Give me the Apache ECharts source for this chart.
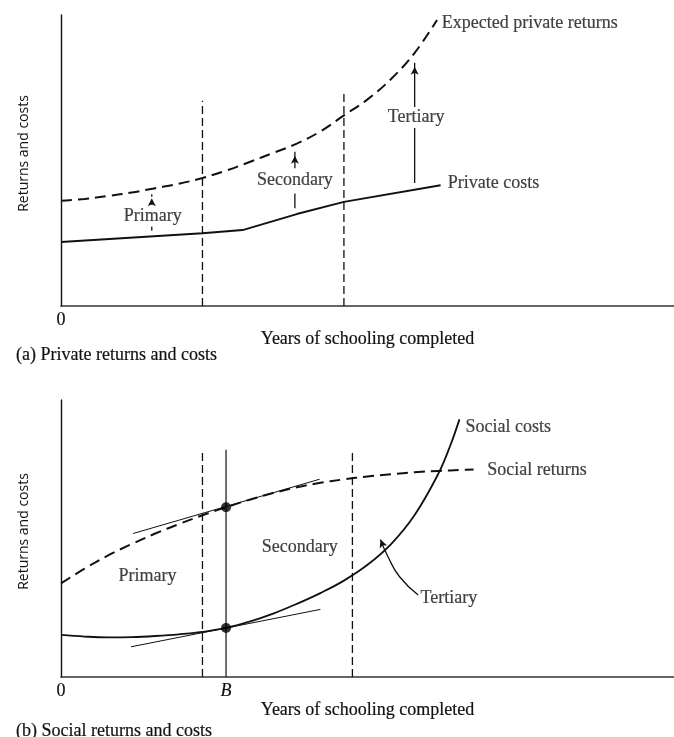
<!DOCTYPE html>
<html><head><meta charset="utf-8">
<script src="https://cdn.jsdelivr.net/npm/echarts@6/dist/echarts.min.js"></script>
<style>html,body{margin:0;padding:0;background:#fff}#c{width:674px;height:737px}</style>
</head><body><div id="c"></div>
<script>
// ---------- Panel (a): private returns and costs ----------
const expectedPrivateReturns = [[0,36.2],[1,36.8],[2,37.8],[3,39],[4,40.5],[5,42],[6,44],[7,46.5],[8,49.5],[9,52.6],[10,55.8],[11,60],[12,65.5],[13,71],[14,78],[15,87],[15.95,98.3]];
const privateCosts = [[0,22],[6,25],[7.7,26.1],[10,31.6],[12,35.8],[16.1,41.5]];
const stageLinesA = [[6,70.5],[12,74.2]];            // [years, top of line]
const arrowsA = [                                     // [years, lowStart, lowEnd, upStart, tip]
  [3.85, 25.9, 28.4, 34.8, 38.4],
  [9.92, 33.6, 38.7, 47.3, 53.0],
  [15.0, 42.3, 61.2, 68.4, 83.6]
];
const arrowDashedA = [true, false, false];
const labelsA = [
  ['Expected private returns', 16.15, 97.3, 'left'],
  ['Private costs', 16.4, 42.3, 'left'],
  ['Primary', 3.89, 31.0, 'center'],
  ['Secondary', 9.92, 43.3, 'center'],
  ['Tertiary', 15.06, 64.9, 'center']
];
const xTickLabelsA = {0:'0'};

// ---------- Panel (b): social returns and costs ----------
const socialReturns = [[0,33.8],[1,39.1],[2,43.9],[3,48.0],[4,51.8],[5,55.2],[6,58.4],[7,61.3],[8,64.0],[9,66.4],[10,68.5],[11,70.1],[12,71.35],[13,72.4],[14,73.2],[15,73.9],[16,74.4],[17,74.75],[17.5,74.9]];
const socialCosts = [[0,15.2],[1,14.6],[2,14.3],[3,14.4],[4,14.8],[5,15.4],[6,16.3],[7,17.7],[8,20.0],[9,22.9],[10,26.4],[11,30.3],[12,34.8],[13,40.5],[14,48.0],[15,58.5],[16,73.3],[16.5,83.3],[16.9,93]];
const returnsTangent = [[3.06,51.8],[10.97,71.4]];
const costsTangent = [[2.97,10.9],[11.0,24.4]];
const pointB = 7;
const dotsB = [[7,61.3],[7,17.7]];
const stageLinesB = [[6,82],[12.36,82]];
const lineBTop = 82;
const tertiaryPointer = [[15.15,29.6],[14.36,36.2],[13.87,43.4],[13.55,49.6]];
const labelsB = [
  ['Social costs', 17.16, 90.1, 'left'],
  ['Social returns', 18.08, 74.5, 'left'],
  ['Primary', 3.67, 36.2, 'center'],
  ['Secondary', 10.13, 47.0, 'center'],
  ['Tertiary', 15.25, 28.4, 'left']
];
const xTickLabelsB = {0:'0', 7:'B'};

const X_MAX = 26, Y_MAX = 100;
const FONT = 'Liberation Serif';
const INK = '#111';
const TXT = {fontFamily:FONT, fontSize:18, color:'#111', textBorderColor:'#111', textBorderWidth:0.2};

function lineSeries(ax, data, opts) {
  opts = opts || {};
  return {
    type:'line', xAxisIndex:ax, yAxisIndex:ax, data:data,
    symbol:'none', showSymbol:true, silent:true, animation:false,
    smooth: opts.smooth || false,
    lineStyle:{color:INK, width: opts.width || 1.6, type: opts.dash || 'solid'},
    emphasis:{disabled:true}, z: opts.z || 2
  };
}
function arrowSeries(ax, x, y0, y1, dashed) {
  return lineSeries(ax, [[x,y0], {value:[x,y1], symbol:'arrow', symbolSize:[6,8], symbolOffset:[0,'50%'], itemStyle:{color:INK}}],
    {width:1.3, dash: dashed ? [4,4] : 'solid'});
}
function labelSeries(ax, labels) {
  return {
    type:'scatter', xAxisIndex:ax, yAxisIndex:ax, silent:true, animation:false,
    symbolSize:1, itemStyle:{color:'rgba(0,0,0,0)'},
    data: labels.map(l => ({value:[l[1], l[2]], name:l[0],
      label:Object.assign({show:true, position:'inside', align:l[3], verticalAlign:'middle',
        formatter:l[0]}, TXT)})),
    z:5
  };
}
function xAxis(grid, ticks, nameGap) {
  return {
    type:'value', gridIndex:grid, min:0, max:X_MAX, interval:1,
    name:'Years of schooling completed', nameLocation:'middle', nameGap:nameGap,
    nameTextStyle:Object.assign({}, TXT),
    axisLine:{show:true, onZero:false, lineStyle:{color:'#333', width:1.7}},
    axisTick:{show:false}, splitLine:{show:false},
    axisLabel:Object.assign({show:true, margin:5, interval:0, hideOverlap:false, showMinLabel:true, showMaxLabel:false,
      formatter: v => { const t = ticks[v]; if (!t) return ''; return t === 'B' ? '{i|B}' : t; },
      rich:{i:Object.assign({fontStyle:'italic'}, TXT)}}, TXT)
  };
}
function yAxis(grid) {
  return {
    type:'value', gridIndex:grid, min:0, max:Y_MAX,
    name:'Returns and costs', nameLocation:'middle', nameGap:30, nameRotate:90,
    nameTextStyle:{fontFamily:'Open Sans', fontSize:14, color:'#111', padding:[0,0,0,14]},
    axisLine:{show:true, onZero:false, lineStyle:{color:'#111', width:1.4}},
    axisTick:{show:false}, splitLine:{show:false}, axisLabel:{show:false}
  };
}

const series = [];
// panel a
series.push(lineSeries(0, expectedPrivateReturns, {smooth:0.4, dash:[11,6], width:2}));
series.push(lineSeries(0, privateCosts, {width:1.9}));
stageLinesA.forEach(s => series.push(lineSeries(0, [[s[0],0],[s[0],s[1]]], {dash:[8,4], width:1.3})));
arrowsA.forEach((a,i) => {
  series.push(lineSeries(0, [[a[0],a[1]],[a[0],a[2]]], {width:1.3, dash: arrowDashedA[i] ? [4,4] : 'solid'}));
  series.push(arrowSeries(0, a[0], a[3], a[4], arrowDashedA[i]));
});
series.push(labelSeries(0, labelsA));
// panel b
series.push(lineSeries(1, socialReturns, {smooth:0.4, dash:[11,6], width:2}));
series.push(lineSeries(1, socialCosts, {smooth:0.4, width:1.8}));
series.push(lineSeries(1, returnsTangent, {width:1}));
series.push(lineSeries(1, costsTangent, {width:1}));
stageLinesB.forEach(s => series.push(lineSeries(1, [[s[0],0],[s[0],s[1]]], {dash:[8,4], width:1.3})));
series.push(lineSeries(1, [[pointB,0],[pointB,lineBTop]], {width:1.2}));
series.push({type:'scatter', xAxisIndex:1, yAxisIndex:1, data:dotsB, symbolSize:10, silent:true, animation:false,
  itemStyle:{color:'#000'}, z:6});
series.push(lineSeries(1, tertiaryPointer.map((p,i) => i === tertiaryPointer.length-1 ?
  {value:p, symbol:'arrow', symbolSize:[6,8], symbolRotate:22, itemStyle:{color:INK}} : p), {smooth:0.5, width:1.3}));
series.push(labelSeries(1, labelsB));

const chart = echarts.init(document.getElementById('c'), null, {renderer:'canvas'});
chart.setOption({
  backgroundColor:'#fff',
  animation:false,
  title:[
    {text:'(a) Private returns and costs', left:16, top:346, padding:0,
      textStyle:Object.assign({fontWeight:'normal'}, TXT)},
    {text:'(b) Social returns and costs', left:16, top:722, padding:0,
      textStyle:Object.assign({fontWeight:'normal'}, TXT)}
  ],
  grid:[
    {left:61, right:0, top:15, height:291, containLabel:false},
    {left:61, right:0, top:400, height:277, containLabel:false}
  ],
  xAxis:[xAxis(0, xTickLabelsA, 22), xAxis(1, xTickLabelsB, 24)],
  yAxis:[yAxis(0), yAxis(1)],
  series:series
});
</script></body></html>
